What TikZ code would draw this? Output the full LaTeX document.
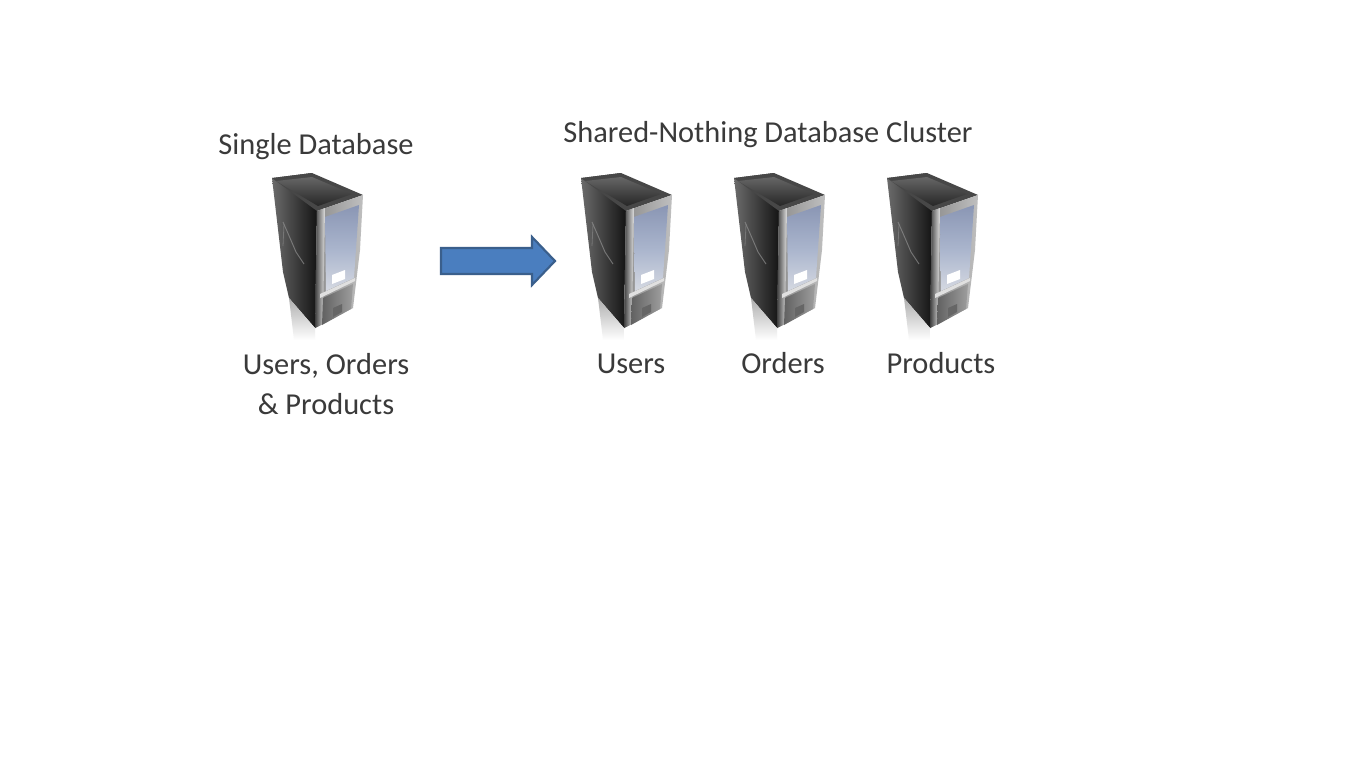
\documentclass[tikz,border=0pt]{standalone}
\usepackage{fontspec}
\setmainfont{Carlito}
\usetikzlibrary{calc}
\definecolor{txt}{HTML}{3A3A3A}
\definecolor{arrowfill}{HTML}{4A7EBF}
\definecolor{arrowedge}{HTML}{3A5F8C}
\definecolor{wintop}{HTML}{8A96B4}
\definecolor{winmid}{HTML}{A9B4CC}
\definecolor{winbot}{HTML}{D5D9E2}
\tikzset{
  label text/.style={text=txt,font=\fontsize{22.8pt}{26pt}\selectfont,inner sep=0pt,align=center},
  server/.pic={
    % side body (dark)
    \path[left color=black!58,right color=black!92]
      (272,178) -- (312,173) -- (317,211) -- (315,328) -- (289,298) -- (283,272) -- cycle;
    % top
    \path[fill=black!72] (272,178) -- (312,173) -- (363,195) -- (317,211) -- cycle;
    \path[top color=black!60,bottom color=black!85] (276,181) -- (312,177) -- (352,194) -- (318,206) -- cycle;
    % side highlights
    \draw[white!55!black,line width=.7pt,opacity=.75] (283,222) -- (290,238) -- (296,252) -- (304,264);
    \draw[white!55!black,line width=.6pt,opacity=.6] (284,224) -- (283,246);
    % front frame
    \path[left color=black!45,right color=black!25]
      (317,211) -- (363,195) -- (360,250) -- (353,308) -- (315,328) -- cycle;
    \path[left color=black!75,right color=black!12]
      (317,211) -- (325,208) -- (323,324) -- (315,328) -- cycle;
    % upper window
    \path[top color=wintop,bottom color=winbot,middle color=winmid]
      (325,217) -- (359,205) -- (354,278) -- (326,291) -- cycle;
    % white drive bay
    \path[fill=white] (332,275) -- (345,270) -- (345,279) -- (332,284) -- cycle;
    % lower panel
    \path[left color=black!62,right color=black!38] (323,298) -- (353,284) -- (351,309) -- (322,325) -- cycle;
    \path[fill=black!12] (320,294) -- (355,278) -- (355,281) -- (320,298) -- cycle;
    \path[fill=black!60] (333,308) -- (342,304) -- (342,312) -- (333,317) -- cycle;
    % reflection fading into white under the case
    \path[top color=black!32,bottom color=white] (289,298) -- (315,328) -- (315,340) -- (294,340) -- cycle;
  }
}
\begin{document}
\begin{tikzpicture}[x=0.75pt,y=-0.75pt]
  \useasboundingbox (0,0) rectangle (1366,768);
  \fill[white] (0,0) rectangle (1366,768);

  \node[label text] (title1) at (316,147) {Single Database};
  \node[label text] (title2) at (768,135) {Shared-Nothing Database Cluster};

  \pic (s1) at (0,0) {server};
  \pic (s2) at (309,0) {server};
  \pic (s3) at (462,0) {server};
  \pic (s4) at (615,0) {server};

  \node[label text] (lab1) at (326,384) {Users, Orders\\[4pt]\& Products};
  \node[label text,anchor=base] (lab2) at (631,373) {Users};
  \node[label text,anchor=base] (lab3) at (783,373) {Orders};
  \node[label text,anchor=base] (lab4) at (941,373) {Products};

  % block arrow
  \path[fill=arrowfill,draw=arrowedge,line width=1.6pt,line join=miter]
    (441,248) -- (532,248) -- (532,237) -- (555,261) -- (532,285) -- (532,274) -- (441,274) -- cycle;
\end{tikzpicture}
\end{document}
